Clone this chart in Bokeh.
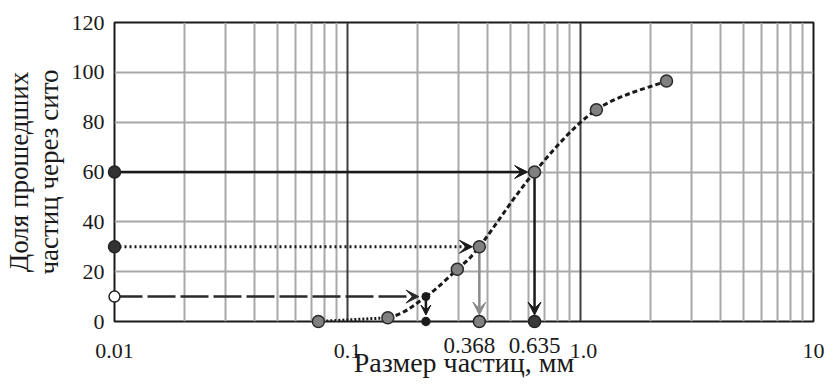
import numpy as np
from bokeh.plotting import figure
from bokeh.models import (ColumnDataSource, Arrow, VeeHead, FixedTicker, Grid,
                          LogAxis, Range1d)
from bokeh.embed import file_html
from bokeh.resources import INLINE

# ---------------- data ----------------
curve_x = [0.075, 0.149, 0.217, 0.296, 0.368, 0.635, 1.17, 2.34]
curve_y = [0, 1.5, 10, 21, 30, 60, 85, 96.5]
sample_x = [0.075, 0.149, 0.296, 0.368, 0.635, 1.17, 2.34]
sample_y = [0, 1.5, 21, 30, 60, 85, 96.5]
levels = [10, 30, 60]            # % passing (d10, d30, d60)
d_values = [0.217, 0.368, 0.635]  # particle size at each level, mm
d_labels = ["0.368", "0.635"]
x_ticks = [0.01, 0.1, 1, 10]
x_tick_labels = ["0.01", "0.1", "1.0", "10"]
y_ticks = [0, 20, 40, 60, 80, 100, 120]
x_min, x_max = 0.01, 10
y_min, y_max = 0, 120

FONT = "serif"
INK = "#1a1a1a"
PX_PER_DECADE = 706 / 3.0

p = figure(width=825, height=380, x_axis_type="log",
           x_range=Range1d(x_min, x_max), y_range=Range1d(y_min, y_max),
           output_backend="svg", toolbar_location=None,
           min_border_left=107, min_border_right=12,
           min_border_top=22, min_border_bottom=59,
           background_fill_color="white", border_fill_color="white")

# ---------------- grid ----------------
minor = [k * 10.0 ** e for e in (-2, -1, 0) for k in range(2, 10)]
p.xgrid.ticker = FixedTicker(ticks=minor)
p.xgrid.grid_line_color = "#a8a8a8"
p.xgrid.grid_line_width = 2
p.ygrid.ticker = FixedTicker(ticks=y_ticks)
p.ygrid.grid_line_color = "#a8a8a8"
p.ygrid.grid_line_width = 2
major_grid = Grid(dimension=0, ticker=FixedTicker(ticks=x_ticks[1:-1]),
                  grid_line_color="#3c3c3c", grid_line_width=2)
p.add_layout(major_grid)

p.outline_line_color = INK
p.outline_line_width = 2


def style_axis(ax, size):
    ax.axis_line_color = None
    ax.major_tick_line_color = None
    ax.minor_tick_line_color = None
    ax.major_tick_out = 0
    ax.major_tick_in = 0
    ax.major_label_text_font = FONT
    ax.major_label_text_font_size = size
    ax.major_label_text_color = INK
    ax.axis_label_text_font = FONT
    ax.axis_label_text_font_style = "normal"
    ax.axis_label_text_color = INK


def nudged(vals, px):
    # label anchor moved by a few screen pixels along the log axis
    return [v * 10 ** (o / PX_PER_DECADE) for v, o in zip(vals, px)]


# inner x axis: d30 / d60 values (slightly raised row)
xa = p.xaxis[0]
style_axis(xa, "23px")
xa_pos = nudged(d_values[1:], [-10, 0])
xa.ticker = FixedTicker(ticks=xa_pos)
xa.major_label_overrides = dict(zip(xa_pos, d_labels))
xa.major_label_standoff = 16

# outer x axis: decades + axis title
xb = LogAxis()
style_axis(xb, "22px")
xb_pos = nudged(x_ticks, [0, 0, 3, 0])
xb.ticker = FixedTicker(ticks=xb_pos)
xb.major_label_overrides = dict(zip(xb_pos, x_tick_labels))
xb.major_label_standoff = -12
xb.axis_label = "Размер частиц, мм"
xb.axis_label_text_font_size = "28px"
xb.axis_label_standoff = -14
p.add_layout(xb, "below")

ya = p.yaxis[0]
style_axis(ya, "22px")
ya.ticker = FixedTicker(ticks=y_ticks)
ya.major_label_standoff = 10
ya.axis_label = "Доля прошедших\nчастиц через сито"
ya.axis_label_text_font_size = "27px"
ya.axis_label_text_line_height = 1.0
ya.axis_label_standoff = 5

# ---------------- smooth curve (Catmull-Rom -> cubic Bezier) ----------------
P = np.column_stack([np.log10(curve_x), np.array(curve_y, float)])
n = len(P)
seg = dict(x0=[], y0=[], x1=[], y1=[], cx0=[], cy0=[], cx1=[], cy1=[])
for i in range(1, n - 1):
    a = P[i - 1]
    b = P[i]
    c = P[i + 1]
    d = P[i + 2] if i + 2 < n else P[i + 1]
    c1 = b + (c - a) / 6.0
    c2 = c - (d - b) / 6.0
    seg["x0"].append(10 ** b[0]); seg["y0"].append(b[1])
    seg["x1"].append(10 ** c[0]); seg["y1"].append(c[1])
    seg["cx0"].append(10 ** c1[0]); seg["cy0"].append(c1[1])
    seg["cx1"].append(10 ** c2[0]); seg["cy1"].append(c2[1])
p.bezier(x0="x0", y0="y0", x1="x1", y1="y1", cx0="cx0", cy0="cy0",
         cx1="cx1", cy1="cy1", source=ColumnDataSource(seg),
         line_color=INK, line_width=3, line_dash="5 3")
p.line(curve_x[:2], curve_y[:2], line_color=INK, line_width=3, line_dash="2 2")

# ---------------- guide arrows ----------------
gap_x = 10 ** (-7 / PX_PER_DECADE)   # ~7 px before the marker
gap_y = 2.6                           # ~6 px above the zero line
h_styles = [("28 5", "#2a2a2a", 2.5), ("2 3", INK, 3), ("solid", INK, 2.5)]
for lev, dv, (dash, col, lw) in zip(levels, d_values, h_styles):
    p.add_layout(Arrow(end=VeeHead(size=13, fill_color=col, line_color=col),
                       x_start=x_min, y_start=lev, x_end=dv * gap_x, y_end=lev,
                       line_color=col, line_width=lw, line_dash=dash))
v_styles = [(INK, 2.5, 10), ("#8a8a8a", 2.5, 13), (INK, 2.5, 13)]
for lev, dv, (col, lw, hs) in zip(levels, d_values, v_styles):
    p.add_layout(Arrow(end=VeeHead(size=hs, fill_color=col, line_color=col),
                       x_start=dv, y_start=lev, x_end=dv, y_end=y_min + gap_y,
                       line_color=col, line_width=lw))

# ---------------- markers ----------------
p.scatter(sample_x, sample_y, size=12, fill_color="#808080",
          line_color="#2a2a2a", line_width=1.5, level="overlay")
p.scatter([x_min] * 3, levels, size=[11, 12, 12],
          fill_color=["white", "#333333", "#333333"],
          line_color="#222222", line_width=1.5, level="overlay")
p.scatter(d_values, [y_min] * 3, size=[8, 12, 12],
          fill_color=["#1a1a1a", "#808080", "#3a3a3a"],
          line_color="#222222", line_width=1.5, level="overlay")
p.scatter(d_values[:1], levels[:1], size=8, fill_color="#1a1a1a",
          line_color="#1a1a1a", level="overlay")

open("out.html", "w").write(file_html(p, INLINE))
